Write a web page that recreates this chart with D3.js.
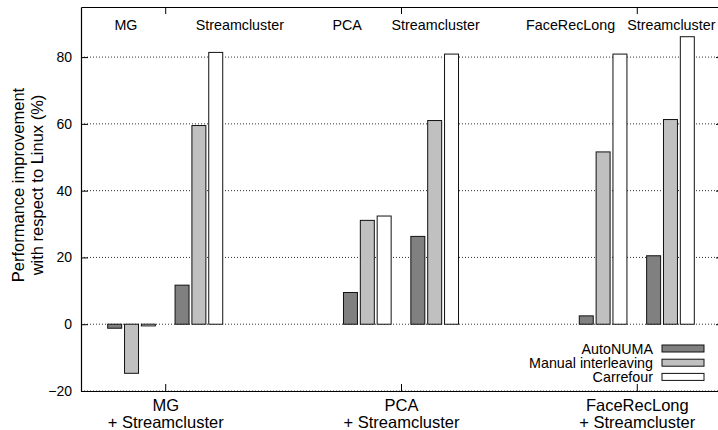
<!DOCTYPE html>
<html>
<head>
<meta charset="utf-8">
<script src="https://cdn.jsdelivr.net/npm/d3@7/dist/d3.min.js"></script>
<style>
  html, body { margin: 0; padding: 0; background: #fff; }
  svg { display: block; font-family: "Liberation Sans", Arial, Helvetica, sans-serif; }
</style>
</head>
<body>
<svg id="chart" width="718" height="430"></svg>
<script>
// Workload pairs: each pair runs one application next to Streamcluster
const pairs = ["MG", "PCA", "FaceRecLong"];
const pairLabels = [["MG", "+ Streamcluster"], ["PCA", "+ Streamcluster"], ["FaceRecLong", "+ Streamcluster"]];
const appNames = ["MG", "Streamcluster", "PCA", "Streamcluster", "FaceRecLong", "Streamcluster"];
const seriesNames = ["AutoNUMA", "Manual interleaving", "Carrefour"];

// Improvement over Linux (%), one value per application, in appNames order
const autoNUMA = [-1.2, 11.7, 9.5, 26.3, 2.5, 20.5];
const manualInterleaving = [-14.7, 59.5, 31.1, 61.0, 51.6, 61.3];
const carrefour = [-0.5, 81.4, 32.4, 80.9, 80.9, 86.1];

const yTicks = [-20, 0, 20, 40, 60, 80];

// Layout (in histogram slot units)
const pairSpacing = 14;          // slots between pair centres
const clusterOffset = 2;         // application cluster centre relative to pair centre
const barWidth = 0.83;
const headerOffsets = [[-2.33, 4.43], [-3.2, 2.06], [-3.93, 2.05]];
const fills = ["#808080", "#c0c0c0", "#ffffff"];

const values = [autoNUMA, manualInterleaving, carrefour];

const svg = d3.select("#chart");
const plotLeft = 81, plotRight = 721, plotTop = 7, plotBottom = 391;

const x = d3.scaleLinear().domain([-5, 33]).range([plotLeft, plotRight]);
const y = d3.scaleLinear().domain([-20, 95]).range([plotBottom, plotTop]);

const pairCenters = pairs.map((_, i) => i * pairSpacing);
const appCenter = j => Math.floor(j / 2) * pairSpacing + (j % 2 === 0 ? -clusterOffset : clusterOffset);

// dotted grid
svg.append("g").selectAll("line").data(yTicks).join("line")
  .attr("x1", plotLeft).attr("x2", plotRight)
  .attr("y1", d => y(d)).attr("y2", d => y(d))
  .attr("stroke", "#333").attr("stroke-width", 1)
  .attr("stroke-dasharray", "1,2");

// bars
const barData = [];
values.forEach((arr, s) => arr.forEach((v, j) => barData.push({ s, j, v })));
svg.append("g").selectAll("rect").data(barData).join("rect")
  .attr("x", d => x(appCenter(d.j) + (d.s - 1) - barWidth / 2))
  .attr("width", d => x(barWidth) - x(0))
  .attr("y", d => y(Math.max(0, d.v)))
  .attr("height", d => Math.abs(y(d.v) - y(0)))
  .attr("fill", d => fills[d.s])
  .attr("stroke", "#111").attr("stroke-width", 1);

// axes
const axisStyle = g => {
  g.selectAll("path.domain").attr("stroke", "#000").attr("stroke-width", 1.2);
  g.selectAll(".tick line").attr("stroke", "#000").attr("stroke-width", 1);
};

svg.append("g").attr("transform", `translate(${plotLeft},0)`)
  .call(d3.axisLeft(y).tickValues(yTicks).tickSize(-7).tickSizeOuter(0).tickPadding(9))
  .call(axisStyle)
  .call(g => g.selectAll("text").attr("font-size", 14).attr("fill", "#000")
    .attr("font-family", "Liberation Sans, Arial, sans-serif"));

svg.append("g").attr("transform", `translate(${plotRight},0)`)
  .call(d3.axisRight(y).tickValues(yTicks).tickSize(-5).tickSizeOuter(0).tickFormat(""))
  .call(axisStyle);

svg.append("g").attr("transform", `translate(0,${plotTop})`)
  .call(d3.axisTop(x).tickValues(pairCenters).tickSize(-7).tickSizeOuter(0).tickFormat(""))
  .call(axisStyle);

const xAxis = svg.append("g").attr("transform", `translate(0,${plotBottom})`)
  .call(d3.axisBottom(x).tickValues(pairCenters).tickSize(-7).tickSizeOuter(0).tickFormat(""))
  .call(axisStyle);

// two-line pair labels under the axis
xAxis.selectAll(".tick").each(function (d, i) {
  const t = d3.select(this).append("text")
    .attr("fill", "#000").attr("font-size", 16.5)
    .attr("font-family", "Liberation Sans, Arial, sans-serif")
    .attr("text-anchor", "middle");
  t.append("tspan").attr("x", 0).attr("y", 20).text(pairLabels[i][0]);
  t.append("tspan").attr("x", 0).attr("y", 37).text(pairLabels[i][1]);
});

// application names along the top
svg.append("g").selectAll("text").data(appNames).join("text")
  .attr("x", (d, j) => x(Math.floor(j / 2) * pairSpacing + headerOffsets[Math.floor(j / 2)][j % 2]))
  .attr("y", 29.5)
  .attr("text-anchor", "middle")
  .attr("font-size", 14.3)
  .attr("fill", "#000")
  .text(d => d);

// y axis title
const yTitle = svg.append("text")
  .attr("transform", "translate(0,185) rotate(-90)")
  .attr("text-anchor", "middle")
  .attr("font-size", 16.5)
  .attr("fill", "#000");
yTitle.append("tspan").attr("x", 0).attr("y", 24).text("Performance improvement");
yTitle.append("tspan").attr("x", 0).attr("y", 43).text("with respect to Linux (%)");

// legend
const legend = svg.append("g").selectAll("g").data(seriesNames).join("g")
  .attr("transform", (d, i) => `translate(0,${348.5 + i * 14.2})`);
legend.append("text")
  .attr("x", 653).attr("y", 5)
  .attr("text-anchor", "end")
  .attr("font-size", 14.3)
  .attr("fill", "#000")
  .text(d => d);
legend.append("rect")
  .attr("x", 662).attr("y", -3.5)
  .attr("width", 42).attr("height", 7)
  .attr("fill", (d, i) => fills[i])
  .attr("stroke", "#111").attr("stroke-width", 1);
</script>
</body>
</html>
